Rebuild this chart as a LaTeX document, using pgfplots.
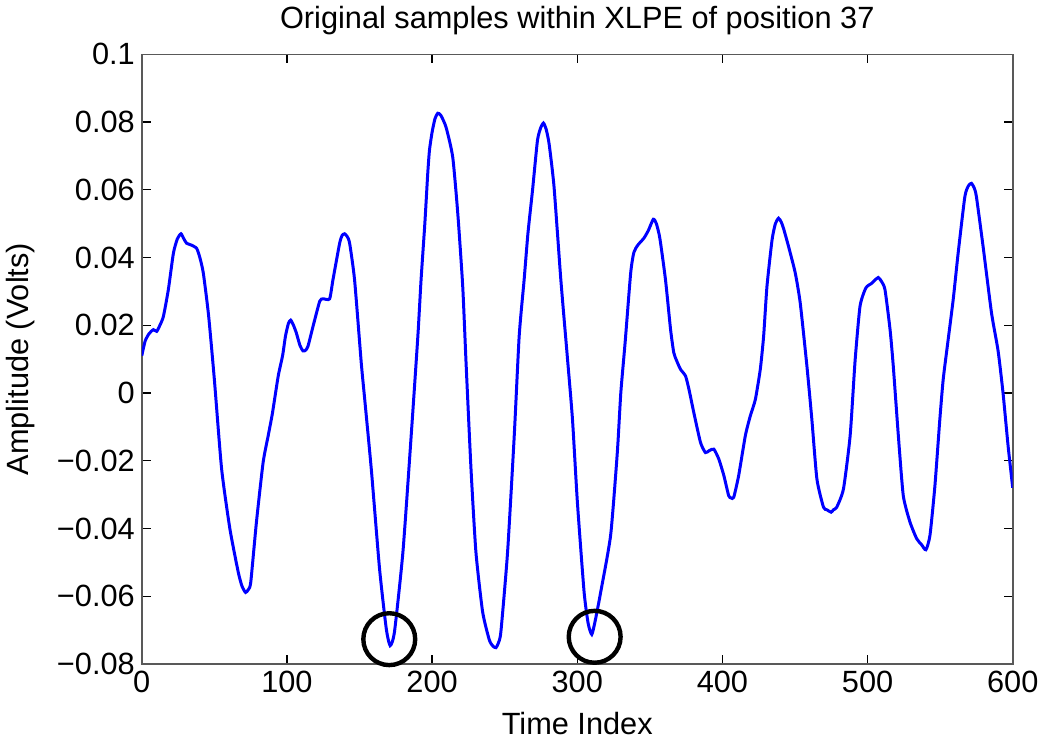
\documentclass[border=0pt]{standalone}
\usepackage{fontspec}
\setmainfont{Liberation Sans}
\usepackage{pgfplots}
\pgfplotsset{compat=1.18}
\begin{document}
\begin{tikzpicture}
\begin{axis}[
  scale only axis,
  width=436.5pt, height=305.5pt,
  xmin=0, xmax=600, ymin=-0.08, ymax=0.1,
  xtick={0,100,200,300,400,500,600},
  ytick={-0.08,-0.06,-0.04,-0.02,0,0.02,0.04,0.06,0.08,0.1},
  yticklabels={−0.08,−0.06,−0.04,−0.02,0,0.02,0.04,0.06,0.08,0.1},
  scaled y ticks=false,
  /pgf/number format/assume math mode=true,
  tick align=inside,
  major tick length=4.5pt,
  axis line style={draw=black!65, line width=0.8pt},
  every tick/.style={black, line width=0.6pt},
  tick label style={font=\fontsize{15.4}{18}\selectfont},
  label style={font=\fontsize{15.4}{18}\selectfont},
  title style={font=\fontsize{15.4}{18}\selectfont},
  ylabel style={yshift=4pt},
  xlabel style={yshift=-3pt},
  title={Original samples within XLPE of position 37},
  xlabel={Time Index},
  ylabel={Amplitude (Volts)},
  clip=true,
]
\addplot[blue, line width=1.5pt, smooth, tension=0.35] coordinates {
(0,0.0110)(2.3,0.0153)(5,0.0175)(8,0.0187)(10.3,0.0182)(12.5,0.0200)(14.9,0.0226)
(18.3,0.0305)(21.8,0.0413)(24.5,0.0455)(27,0.0470)(29,0.0455)(30.9,0.0442)(34,0.0437)
(37.8,0.0427)(40,0.0400)(42.4,0.0354)(46,0.0230)(50,0.0040)(55,-0.0224)(60.7,-0.0401)
(66.4,-0.0528)(69,-0.0570)(71.5,-0.0589)(73.5,-0.0580)(75.1,-0.0558)(79,-0.0381)
(83.6,-0.0205)(87.1,-0.0126)(90,-0.0060)(94,0.0050)(97,0.0110)(99,0.0168)(101,0.0205)
(102.6,0.0215)(104.5,0.0200)(106.5,0.0177)(109,0.0140)(111.1,0.0124)(112.8,0.0126)
(114.5,0.0138)(118,0.0197)(122.6,0.0271)(124.9,0.0278)(129.4,0.0278)(131.7,0.0334)
(136.3,0.0442)(138,0.0465)(139.7,0.0470)(141.5,0.0462)(143.2,0.0442)(146.6,0.0334)
(151.2,0.0089)(153.5,-0.0015)(158.1,-0.0224)(163.8,-0.0519)(168.4,-0.0695)(171.1,-0.0746)
(174.1,-0.0705)(179.9,-0.0470)(185.6,-0.0126)(190.2,0.0168)(192.4,0.0334)(195,0.0500)
(197,0.0648)(198.2,0.0717)(200,0.0770)(202,0.0810)(203.9,0.0826)(206,0.0820)(209.6,0.0785)
(214.2,0.0697)(217.7,0.0530)(221.1,0.0315)(223.4,0.0089)(226.8,-0.0224)(230.2,-0.0470)
(234.8,-0.0646)(239.4,-0.0729)(242,-0.0748)(244,-0.0752)(245.5,-0.0740)(247.4,-0.0705)
(252,-0.0470)(256.6,-0.0126)(260,0.0168)(263.4,0.0334)(266,0.0470)(269.2,0.0599)
(272.6,0.0746)(275,0.0785)(276.7,0.0797)(278.5,0.0780)(280.6,0.0736)(284,0.0609)
(288.7,0.0334)(293.3,0.0100)(296.7,-0.0077)(300.1,-0.0323)(304.7,-0.0587)(307.5,-0.0680)
(310,-0.0713)(312.5,-0.0670)(316.2,-0.0587)(323,-0.0420)(327.6,-0.0176)(330,0.0000)
(333,0.0150)(336.8,0.0354)(339,0.0415)(341.8,0.0437)(345.9,0.0457)(349,0.0480)
(352.4,0.0513)(354.5,0.0500)(356.9,0.0457)(360.8,0.0334)(364.3,0.0187)(366.5,0.0119)
(368.5,0.0095)(371.1,0.0070)(374.6,0.0050)(377,0.0010)(380.3,-0.0058)(384.9,-0.0146)
(388.3,-0.0176)(391,-0.0170)(394.1,-0.0166)(397.5,-0.0195)(401,-0.0244)(404.3,-0.0303)
(406,-0.0310)(407.8,-0.0308)(411.2,-0.0244)(415.8,-0.0126)(419.2,-0.0068)(422.7,-0.0019)
(426.1,0.0070)(428.4,0.0168)(430.7,0.0315)(434.2,0.0452)(436.5,0.0500)(438.7,0.0516)
(440.5,0.0505)(442.1,0.0486)(445.6,0.0432)(450.2,0.0354)(453.6,0.0266)(458.2,0.0080)
(461.6,-0.0077)(465.1,-0.0254)(469.6,-0.0337)(472,-0.0345)(474.9,-0.0352)(476.5,-0.0345)
(478.8,-0.0337)(483.4,-0.0283)(488,-0.0126)(491.4,0.0095)(494.8,0.0256)(498.8,0.0310)
(502.9,0.0324)(505,0.0333)(507.4,0.0341)(509.5,0.0330)(512,0.0305)(515.5,0.0187)
(517.7,0.0080)(521.2,-0.0126)(524.6,-0.0303)(529.2,-0.0381)(533.8,-0.0430)(537.2,-0.0448)
(540.2,-0.0463)(543,-0.0420)(546.4,-0.0274)(549.8,-0.0077)(552.1,0.0040)(555,0.0140)
(559,0.0276)(562.4,0.0413)(567,0.0579)(569.5,0.0612)(571.6,0.0619)(573.5,0.0605)
(575,0.0579)(579.6,0.0432)(585.4,0.0236)(589.9,0.0125)(593.3,0.0001)(596.8,-0.0156)
(600,-0.0280)
};
\addplot[only marks, mark=o, mark size=13pt, mark options={black, line width=2.2pt}] coordinates {
(170.5,-0.0727)(312,-0.0720)
};
\end{axis}
\end{tikzpicture}
\end{document}
